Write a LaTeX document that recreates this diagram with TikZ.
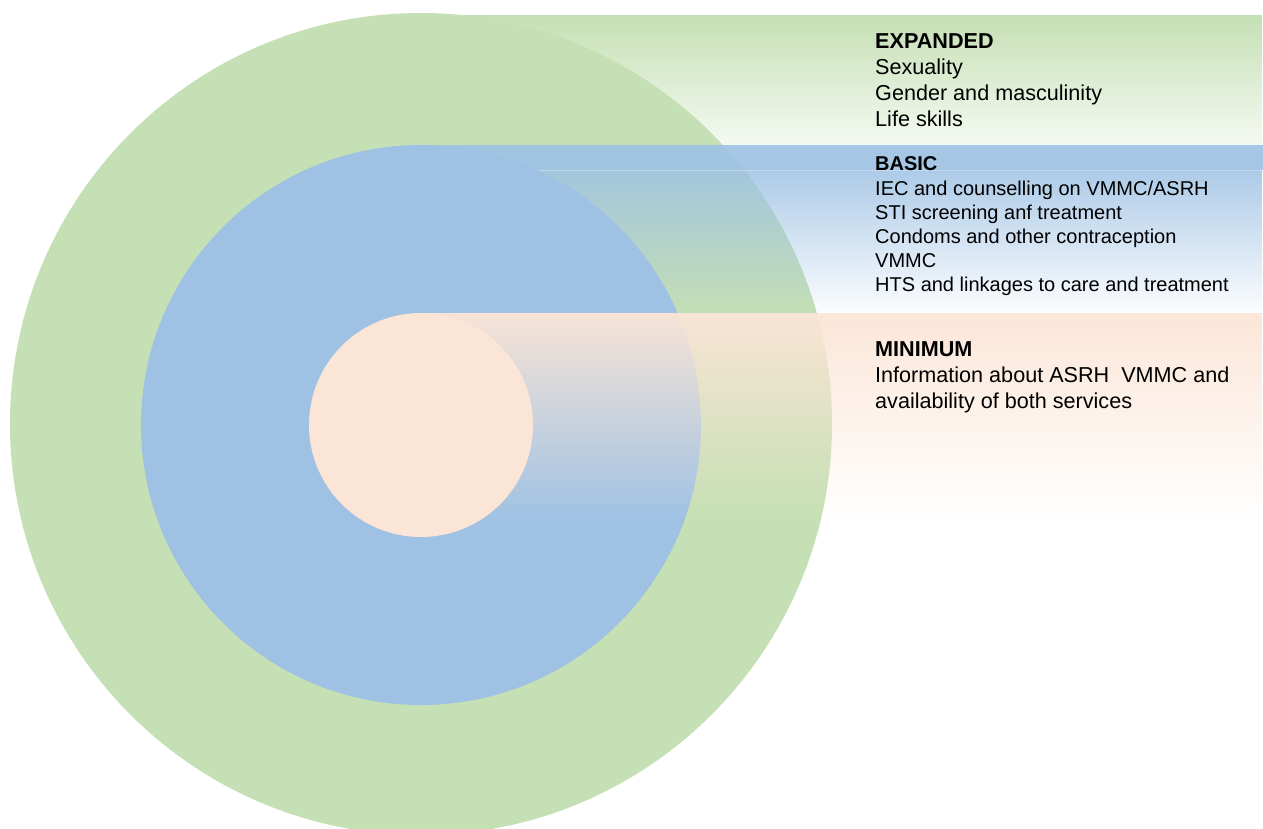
\documentclass[tikz,border=0pt]{standalone}
\usepackage{fontspec}
\setmainfont{Liberation Sans}
\usetikzlibrary{fadings}

\definecolor{ringgreen}{HTML}{C5E0B4}
\definecolor{ringblue}{HTML}{9FC2E4}
\definecolor{ringpeach}{HTML}{FBE5D6}

\tikzfading[name=expandfade, top color=transparent!0, bottom color=transparent!82]
\tikzfading[name=basicfade, top color=transparent!14, bottom color=transparent!97]
\tikzfading[name=minfade, top color=transparent!4, bottom color=transparent!100]

\tikzset{
  bigfont/.style={font=\fontsize{21.6}{26}\selectfont},
  smallfont/.style={font=\fontsize{20}{24}\selectfont},
  item/.style={anchor=base west, inner sep=0pt, text=black},
  head/.style={item, font=\fontsize{21.6}{26}\selectfont\bfseries},
  headsmall/.style={item, font=\fontsize{20}{24}\selectfont\bfseries},
}

\begin{document}
\begin{tikzpicture}[x=1pt, y=-1pt]
\useasboundingbox (0,0) rectangle (1263,828);
\clip (0,0) rectangle (1263,828);

% outer ring
\fill[ringgreen] (421,424) circle (411);

% band behind EXPANDED
\fill[ringgreen, path fading=expandfade] (421,15) rectangle (1263,145);

% band behind BASIC
\fill[ringblue, opacity=0.93] (421,145) rectangle (1263,170);
\fill[ringblue, path fading=basicfade] (421,170) rectangle (1263,313);
\draw[white, opacity=0.3, line width=0.8pt] (421,170) -- (1263,170);

% middle ring
\fill[ringblue] (421,425) circle (280);

% band behind MINIMUM
\fill[ringpeach, path fading=minfade] (421,313) rectangle (1263,522);

% inner disc
\fill[ringpeach] (421,425) circle (112);

% EXPANDED
\node[head] (exp) at (875,48) {EXPANDED};
\node[item, bigfont] (exp1) at (875,74) {Sexuality};
\node[item, bigfont] (exp2) at (875,100) {Gender and masculinity};
\node[item, bigfont] (exp3) at (875,126) {Life skills};

% BASIC
\node[headsmall] (bas) at (875,170) {BASIC};
\node[item, smallfont] (bas1) at (875,195) {IEC and counselling on VMMC/ASRH};
\node[item, smallfont] (bas2) at (875,219) {STI screening anf treatment};
\node[item, smallfont] (bas3) at (875,243) {Condoms and other contraception};
\node[item, smallfont] (bas4) at (875,267) {VMMC};
\node[item, smallfont] (bas5) at (875,291) {HTS and linkages to care and treatment};

% MINIMUM
\node[head] (min) at (875,356) {MINIMUM};
\node[item, bigfont] (min1) at (875,382) {Information about ASRH\ \ VMMC and};
\node[item, bigfont] (min2) at (875,408) {availability of both services};
\end{tikzpicture}
\end{document}
